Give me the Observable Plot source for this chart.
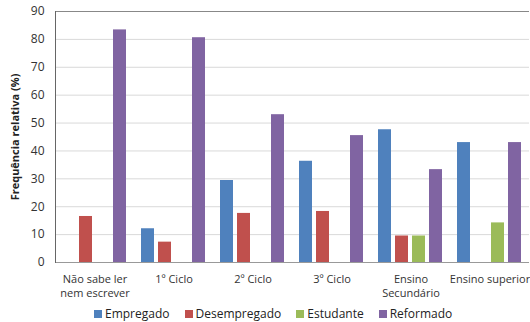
<!DOCTYPE html>
<html>
<head>
<meta charset="utf-8">
<script src="https://cdn.jsdelivr.net/npm/d3@7"></script>
<script src="https://cdn.jsdelivr.net/npm/@observablehq/plot@0.6"></script>
<style>
  html, body { margin: 0; padding: 0; background: #fff; }
  #wrap { position: relative; width: 530px; height: 322px; font-family: "Open Sans", "DejaVu Sans", sans-serif; }
  #ylabel { position: absolute; left: 14px; top: 137px; transform: translate(-50%, -50%) rotate(-90deg); font-size: 11px; font-weight: bold; color: #222; white-space: nowrap; }
  #legend { position: absolute; left: 94px; top: 305px; display: flex; font-size: 12px; line-height: 18px; color: #222; }
  #legend span.sw { display: inline-block; width: 8px; height: 8px; margin-right: 3px; }
  #legend div { display: flex; align-items: center; margin-right: 15px; }
</style>
</head>
<body>
<div id="wrap">
  <div id="chart"></div>
  <div id="ylabel">Frequência relativa (%)</div>
  <div id="legend"></div>
</div>
<script>
const categories = ["Não sabe ler\nnem escrever", "1º Ciclo", "2º Ciclo", "3º Ciclo", "Ensino\nSecundário", "Ensino superior"];
const series = ["Empregado", "Desempregado", "Estudante", "Reformado"];
const colors = ["#4F81BD", "#C0504D", "#9BBB59", "#8064A2"];
const empregado    = [0,    12.1, 29.4, 36.3, 47.6, 43.0];
const desempregado = [16.5, 7.3,  17.6, 18.3, 9.5,  0];
const estudante    = [0,    0,    0,    0,    9.5,  14.2];
const reformado    = [83.4, 80.6, 53.0, 45.5, 33.3, 43.0];
const yTicks = [0, 10, 20, 30, 40, 50, 60, 70, 80, 90];

const valuesBySeries = [empregado, desempregado, estudante, reformado];
const data = [];
categories.forEach((c, i) => {
  series.forEach((s, j) => {
    data.push({category: c, series: s, value: valuesBySeries[j][i]});
  });
});

const chart = Plot.plot({
  width: 530,
  height: 322,
  marginLeft: 53,
  marginRight: 0,
  marginTop: 11,
  marginBottom: 60,
  style: {fontFamily: "'Open Sans', 'DejaVu Sans', sans-serif", color: "#333", background: "#fff"},
  fx: {domain: categories, padding: 0, label: null, axis: null},
  x: {domain: series, padding: 0.22, paddingOuter: 0.31, axis: null},
  y: {domain: [0, 90], ticks: yTicks, label: null},
  color: {domain: series, range: colors},
  marks: [
    Plot.gridY(yTicks.filter(d => d > 0 && d < 90), {stroke: "#d9d9d9", strokeOpacity: 1}),
    Plot.ruleY([90], {stroke: "#888", strokeWidth: 1}),
    Plot.ruleY([0], {stroke: "#999", strokeWidth: 1}),
    Plot.frame({anchor: "left", facetAnchor: "left", stroke: "#666"}),
    Plot.barY(data, {fx: "category", x: "series", y: "value", fill: "series"}),
    Plot.axisY({ticks: yTicks, tickSize: 0, tickPadding: 11, fontSize: 12, fill: "#333", label: null}),
    Plot.axisFx({anchor: "bottom", tickSize: 0, tickPadding: 11, fontSize: 11, fill: "#333", lineHeight: 1.27, label: null})
  ]
});
document.getElementById("chart").appendChild(chart);

const legend = document.getElementById("legend");
series.forEach((s, i) => {
  const d = document.createElement("div");
  d.innerHTML = `<span class="sw" style="background:${colors[i]}"></span>${s}`;
  legend.appendChild(d);
});
</script>
</body>
</html>
